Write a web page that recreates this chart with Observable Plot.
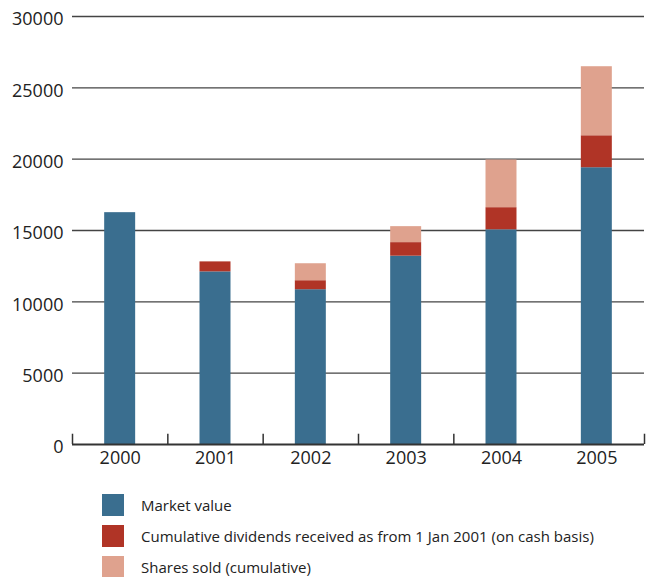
<!DOCTYPE html>
<html><head><meta charset="utf-8">
<script src="https://cdn.jsdelivr.net/npm/d3@7"></script>
<script src="https://cdn.jsdelivr.net/npm/@observablehq/plot@0.6"></script>
<style>
body{margin:0;background:#fff;font-family:"Open Sans",sans-serif;}
#chart svg{display:block;}
#legend{margin-left:102px;margin-top:11px;font-size:15px;color:#222;}
.item{display:flex;align-items:center;height:31px;}
.sw{width:22px;height:22px;margin-right:17px;flex:none;}
</style></head><body>
<div id="chart"></div>
<div id="legend"></div>
<script>
const years = [2000, 2001, 2002, 2003, 2004, 2005];
const marketValue = [16250, 12100, 10850, 13200, 15050, 19400];
const dividends = [0, 700, 630, 950, 1550, 2240];
const sharesSold = [0, 0, 1190, 1120, 3340, 4840];
const seriesNames = ["Market value", "Cumulative dividends received as from 1 Jan 2001 (on cash basis)", "Shares sold (cumulative)"];
const seriesColors = ["#3a6e8f", "#b03426", "#dfa28e"];
const yTicks = [0, 5000, 10000, 15000, 20000, 25000, 30000];
const boundaryTicks = [1999.5, 2000.5, 2001.5, 2002.5, 2003.5, 2005.5];

const seriesValues = [marketValue, dividends, sharesSold];
const data = [];
seriesNames.forEach((s, i) => years.forEach((y, j) => data.push({year: y, series: s, value: seriesValues[i][j]})));
const half = 0.1625;

const chart = Plot.plot({
  width: 653, height: 478,
  marginLeft: 72, marginRight: 9, marginTop: 16, marginBottom: 34,
  style: {fontFamily: "Open Sans, sans-serif", fontSize: "18px", color: "#222"},
  x: {type: "linear", domain: [1999.5, 2005.5], label: null},
  y: {domain: [0, 30000], label: null},
  color: {domain: seriesNames, range: seriesColors},
  marks: [
    Plot.ruleY(yTicks.filter(d => d > 0), {stroke: "#444", strokeWidth: 1.3}),
    Plot.rectY(data, Plot.stackY({x1: d => d.year - half, x2: d => d.year + half, y: "value", fill: "series", order: seriesNames})),
    Plot.ruleY([0], {stroke: "#333", strokeWidth: 2}),
    Plot.ruleX(boundaryTicks, {y1: 0, y2: 720, stroke: "#333", strokeWidth: 1.5}),
    Plot.axisY({ticks: yTicks, tickSize: 0, tickPadding: 9, dy: 3, tickFormat: d => String(d), label: null}),
    Plot.axisX({ticks: years, tickSize: 0, tickPadding: 7, tickFormat: d => String(d), label: null})
  ]
});
document.getElementById("chart").appendChild(chart);
const legend = document.getElementById("legend");
seriesNames.forEach((s, i) => {
  const it = document.createElement("div"); it.className = "item";
  const sw = document.createElement("div"); sw.className = "sw"; sw.style.background = seriesColors[i];
  const t = document.createElement("span"); t.textContent = s;
  it.appendChild(sw); it.appendChild(t); legend.appendChild(it);
});
</script></body></html>
